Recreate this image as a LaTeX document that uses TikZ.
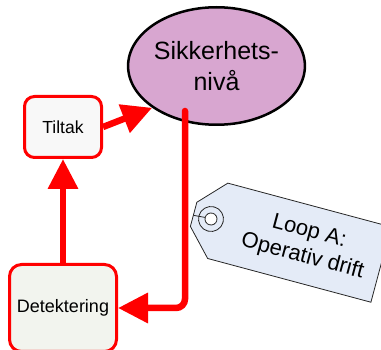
\documentclass[tikz,border=0pt]{standalone}
\usepackage{fontspec}
\setmainfont{Liberation Sans}
\usetikzlibrary{arrows.meta,shapes.geometric}
\definecolor{ellfill}{RGB}{216,166,208}
\definecolor{tiltfill}{RGB}{248,248,248}
\definecolor{detfill}{RGB}{242,244,238}
\definecolor{tagfill}{RGB}{228,235,247}
\begin{document}
\begin{tikzpicture}[x=1pt,y=-1pt,
  box/.style={draw=red, line width=3pt, rounded corners=10pt, inner sep=0pt},
  flow/.style={draw=red, line width=6.5pt, -{Triangle[length=30pt,width=29pt]}},
  tagline/.style={draw=black!85, line width=0.8pt}]
\useasboundingbox (0,0) rectangle (381,350);
\clip (0,0) rectangle (381,350);
\node[ellipse, draw=black, line width=2.5pt, fill=ellfill, minimum width=174.5pt, minimum height=117.5pt, inner sep=0pt, align=center, font=\fontsize{25}{31}\selectfont] (s) at (216.5,66) {Sikkerhets-\\nivå};
\node[box, fill=tiltfill, minimum width=77pt, minimum height=61pt, font=\fontsize{17.5}{21}\selectfont] (t) at (63,127) {Tiltak};
\node[box, fill=detfill, rounded corners=12pt, minimum width=107pt, minimum height=87pt, font=\fontsize{18}{22}\selectfont] (d) at (63,308) {Detektering};
\coordinate (c1) at (185,111);
\draw[flow] (t.east) -- (s.213);
\draw[flow] (d.north) -- (t.south);
\draw[flow, rounded corners=9pt, line cap=round] (c1) |- (d.east);
\begin{scope}[shift={(211,219)}, rotate=-15]
  \draw[tagline, fill=tagfill] (7,-39) -- (176,-39) -- (176,39) -- (7,39) -- (-18,12.5) -- (-18,-12.5) -- cycle;
  \draw[tagline] (0,0) circle[radius=12.5];
  \draw[tagline, fill=white] (0,0) circle[radius=6];
  \draw[tagline] (-18,1) -- (-6,0);
  \coordinate (tc) at (98,0);
\end{scope}
\node[rotate=-15, align=center, inner sep=0pt, font=\fontsize{22}{26}\selectfont] (tagtext) at (tc) {Loop A:\\Operativ drift};
\end{tikzpicture}
\end{document}
